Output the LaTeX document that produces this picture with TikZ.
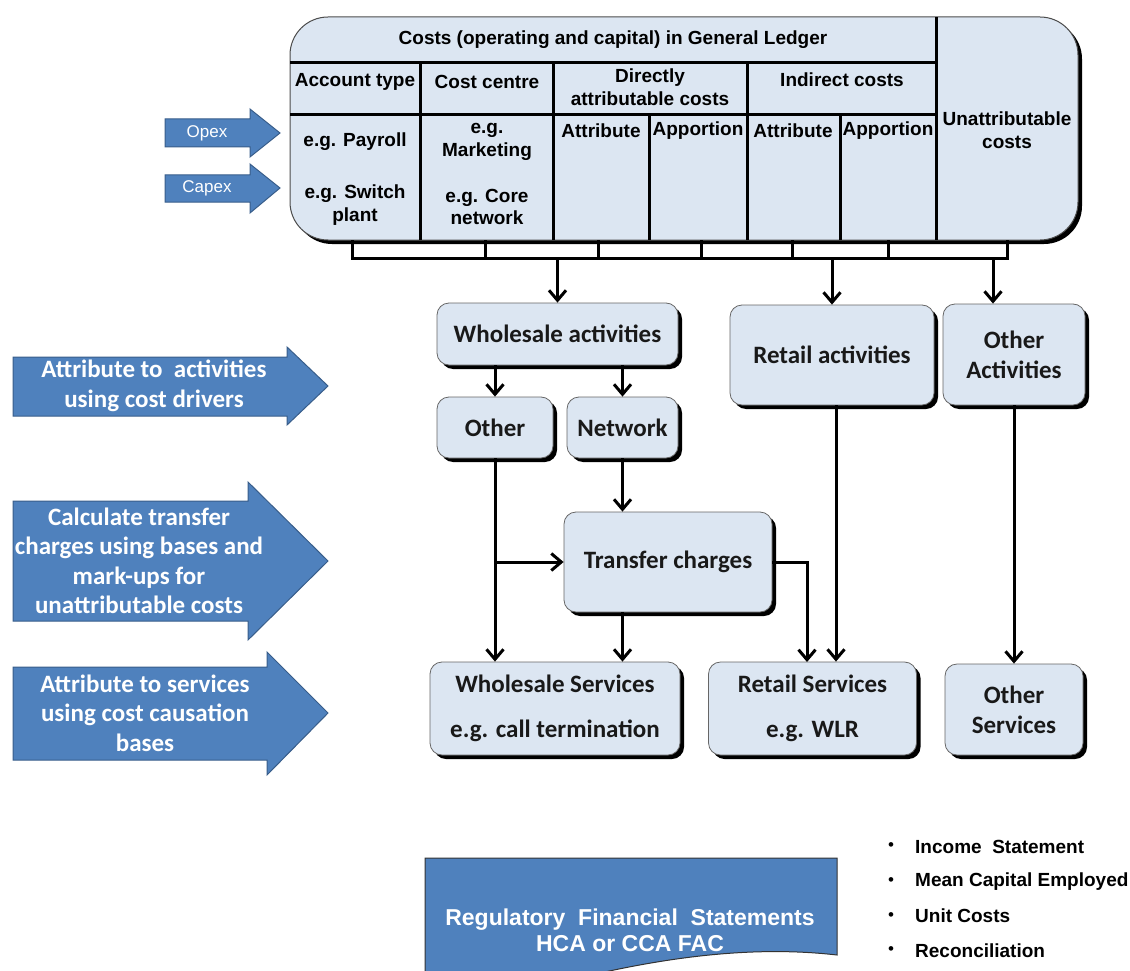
\documentclass[tikz,border=0pt]{standalone}
\usepackage{fontspec}
\setmainfont{Liberation Sans}
\newfontfamily\calibri{Carlito}
\usetikzlibrary{arrows.meta,shadows,positioning}
\definecolor{paleblue}{RGB}{220,230,242}
\definecolor{stepblue}{RGB}{79,129,189}
\definecolor{stepedge}{RGB}{56,93,138}
\definecolor{darktext}{RGB}{25,25,25}
\tikzset{
  ledger/.style={draw=black!70,line width=1pt,fill=paleblue,rounded corners=38pt,
    drop shadow={shadow xshift=4pt,shadow yshift=-4pt,opacity=1,fill=black}},
  cell/.style={font=\bfseries\fontsize{19}{22.5}\selectfont,align=center,inner sep=0pt},
  actbox/.style={draw=black!60,line width=0.8pt,fill=paleblue,rounded corners=12pt,
    align=center,inner sep=0pt,text=darktext,
    font=\calibri\bfseries\fontsize{25}{30}\selectfont,
    drop shadow={shadow xshift=4pt,shadow yshift=-4pt,opacity=1,fill=black}},
  flow/.style={line width=3pt,-{Straight Barb[length=10pt,width=17pt]}},
  link/.style={line width=3pt},
  stepar/.style={draw=stepedge,line width=1pt,fill=stepblue},
  steptext/.style={text=white,align=center,inner sep=0pt,
    font=\calibri\bfseries\fontsize{25}{29.5}\selectfont},
  bullet/.style={font=\bfseries\fontsize{19}{22}\selectfont,anchor=west,inner sep=0pt}
}
\begin{document}
\begin{tikzpicture}[x=1pt,y=-1pt]
  \useasboundingbox (0,0) rectangle (1130,971);

  % general ledger table
  \node[ledger,minimum width=788pt,minimum height=223pt] (gl) at (684,128.5) {};
  \draw[link] (290,63) -- (936,63);
  \draw[link] (290,115) -- (936,115);
  \draw[link] (936,17) -- (936,240);
  \foreach \x in {420,553,747}
    \draw[link] (\x,63) -- (\x,240);
  \foreach \x in {649,840}
    \draw[link] (\x,115) -- (\x,240);

  \node[cell] (title) at (613,40) {Costs (operating and capital) in General Ledger};
  \node[cell] (acct) at (355,82) {Account type};
  \node[cell] (ccentre) at (487,82) {Cost centre};
  \node[cell] (direct) at (650,87) {Directly\\attributable costs};
  \node[cell] (indirect) at (842,80) {Indirect costs};
  \node[cell] (payroll) at (355,142) {e.g. Payroll};
  \node[cell] (switch) at (355,205) {e.g. Switch\\plant};
  \node[cell] (mkt) at (487,142) {e.g.\\Marketing};
  \node[cell] (core) at (487,207) {e.g. Core\\network};
  \node[cell] (dattr) at (601,131) {Attribute};
  \node[cell] (dapp) at (698,131) {Apportion};
  \node[cell] (iattr) at (793,131) {Attribute};
  \node[cell] (iapp) at (888,131) {Apportion};
  \node[cell] (unattr) at (1007,130) {Unattributable\\costs};

  % bracket under the table
  \coordinate (br) at (0,258);
  \draw[link] (352,240) -- (352,258) -- (1007,258) -- (1007,240);
  \foreach \x in {485,598,701,792,888}
    \draw[link] (\x,240) -- (\x,258);

  % opex / capex
  \draw[stepar] (165,119) -- (250,119) -- (250,109) -- (280,133) -- (250,157) -- (250,147) -- (165,147) -- cycle;
  \node[text=white,font=\fontsize{17}{20}\selectfont] (opex) at (207,133) {Opex};
  \draw[stepar] (165,175) -- (250,175) -- (250,164) -- (280,188) -- (250,213) -- (250,202) -- (165,202) -- cycle;
  \node[text=white,font=\fontsize{17}{20}\selectfont] (capex) at (207,188) {Capex};

  % activities
  \node[actbox,minimum width=241pt,minimum height=62pt] (wact) at (557.5,334) {Wholesale activities};
  \node[actbox,minimum width=116pt,minimum height=61pt] (wother) at (495,427.5) {Other};
  \node[actbox,minimum width=111pt,minimum height=61pt] (wnet) at (622.5,427.5) {Network};
  \node[actbox,minimum width=208pt,minimum height=100pt] (transfer) at (668,562) {Transfer charges};
  \node[actbox,minimum width=204pt,minimum height=100pt] (ract) at (832,355) {Retail activities};
  \node[actbox,minimum width=142pt,minimum height=101pt] (oact) at (1014,354.5) {Other\\Activities};

  % services
  \node[actbox,minimum width=250pt,minimum height=93pt] (wserv) at (555,708.5) {Wholesale Services\\[15pt]e.g. call termination};
  \node[actbox,minimum width=208pt,minimum height=93pt] (rserv) at (812.5,708.5) {Retail Services\\[15pt]e.g. WLR};
  \node[actbox,minimum width=138pt,minimum height=91pt] (oserv) at (1014,709.5) {Other\\Services};

  \draw[flow] (wact.north |- br) -- (wact.north);
  \draw[flow] (ract.north |- br) -- (ract.north);
  \draw[flow] ([xshift=-21pt]oact.north |- br) -- ([xshift=-21pt]oact.north);
  \draw[flow] (wother.north |- wact.south) -- (wother.north);
  \draw[flow] (wnet.north |- wact.south) -- (wnet.north);
  \draw[flow] (wnet.south) -- (wnet.south |- transfer.north);
  \draw[flow] (wother.south) -- (wother.south |- wserv.north);
  \draw[flow] (wother.south |- transfer.west) -- (transfer.west);
  \draw[flow] (wnet.south |- transfer.south) -- (wnet.south |- wserv.north);
  \coordinate (tin) at (807,662);
  \draw[flow] (transfer.east) -| (tin);
  \draw[flow] ([xshift=4pt]ract.south) -- ([xshift=4pt]ract.south |- rserv.north);
  \draw[flow] (oact.south) -- (oact.south |- oserv.north);

  % steps on the left
  \draw[stepar] (13,357) -- (287,357) -- (287,347) -- (328,386) -- (287,425) -- (287,416) -- (13,416) -- cycle;
  \node[steptext] (drivers) at (154,386) {Attribute to~ activities\\using cost drivers};
  \draw[stepar] (13,501) -- (248,501) -- (248,482) -- (328,561) -- (248,640) -- (248,621) -- (13,621) -- cycle;
  \node[steptext] (markups) at (139,561) {Calculate transfer\\charges using bases and\\mark-ups for\\unattributable costs};
  \draw[stepar] (13,667) -- (267,667) -- (267,652) -- (328,713) -- (267,775) -- (267,760) -- (13,760) -- cycle;
  \node[steptext] (causation) at (145,713) {Attribute to services\\using cost causation\\bases};

  % statements
  \draw[stepar,draw=black!80] (425,858) -- (837,858) -- (837,955)
    .. controls (750,945) and (660,958) .. (570,980) -- (425,980) -- cycle;
  \node[text=white,align=center,font=\bfseries\fontsize{23}{26}\selectfont] (rfs) at (630,930)
    {Regulatory\ \ Financial\ \ Statements\\HCA or CCA FAC};

  \foreach \t [count=\i] in {Income\ \ Statement,Mean Capital Employed,Unit Costs,Reconciliation}{
    \node[bullet] (b\i) at (915,{812+34.7*\i}) {\t};
    \node[font=\fontsize{17}{17}\selectfont,inner sep=0pt] (d\i) at (891,{812+34.7*\i}) {\textbullet};
  }
\end{tikzpicture}
\end{document}
